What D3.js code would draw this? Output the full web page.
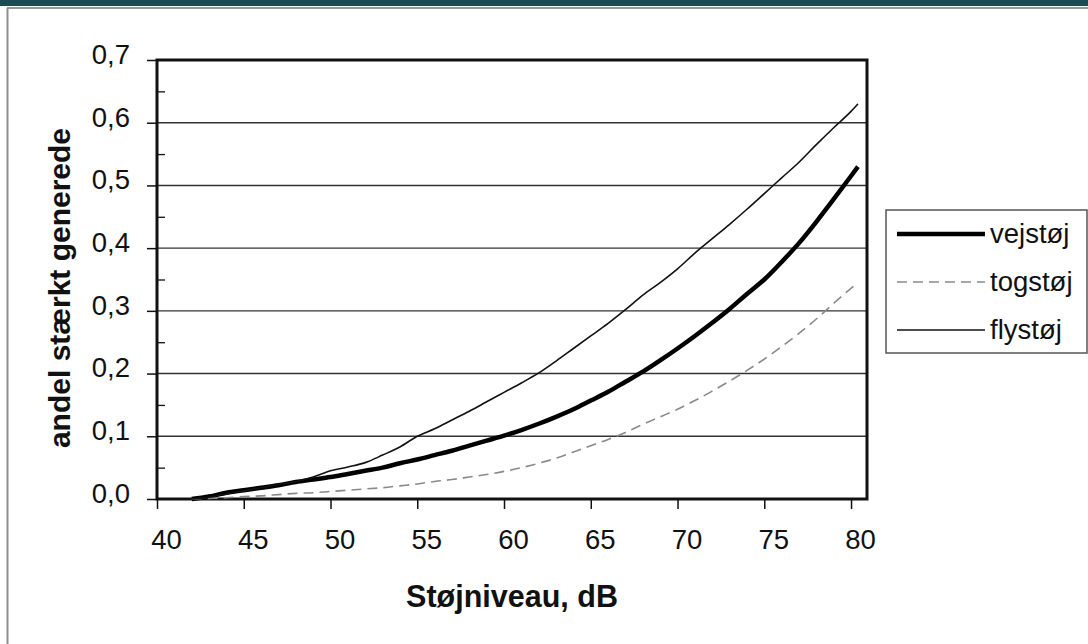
<!DOCTYPE html>
<html>
<head>
<meta charset="utf-8">
<script src="https://cdn.jsdelivr.net/npm/d3@7"></script>
<style>
html,body{margin:0;padding:0;background:#fff;}
svg{display:block;}
text{font-family:"Liberation Sans", Arial, sans-serif;fill:#111;}
</style>
</head>
<body>
<svg id="chart" width="1088" height="644"></svg>
<script>
// ---- data ----
const noiseLevels = [42,43,44,45,46,47,48,49,50,51,52,53,54,55,56,57,58,59,60,61,62,63,64,65,66,67,68,69,70,71,72,73,74,75,76,77,78,79,80,80.4];
const vejstoej = [0,0.004,0.010,0.014,0.018,0.022,0.027,0.031,0.035,0.040,0.045,0.050,0.057,0.063,0.070,0.077,0.085,0.093,0.101,0.110,0.120,0.131,0.143,0.157,0.171,0.187,0.203,0.221,0.240,0.260,0.281,0.303,0.327,0.350,0.378,0.408,0.442,0.478,0.515,0.530];
const togstoej = [0,0.001,0.002,0.004,0.005,0.007,0.009,0.010,0.012,0.014,0.016,0.018,0.021,0.024,0.028,0.031,0.035,0.039,0.044,0.050,0.057,0.065,0.075,0.085,0.095,0.106,0.119,0.131,0.143,0.157,0.172,0.188,0.205,0.223,0.243,0.264,0.287,0.312,0.336,0.345];
const flystoej = [0,0.003,0.008,0.013,0.018,0.023,0.028,0.035,0.045,0.051,0.058,0.070,0.083,0.100,0.112,0.126,0.140,0.155,0.170,0.185,0.201,0.220,0.240,0.260,0.280,0.302,0.325,0.345,0.367,0.392,0.415,0.438,0.462,0.487,0.512,0.537,0.565,0.592,0.618,0.630];
const seriesNames = ["vejstøj","togstøj","flystøj"];
const xTicks = [40,45,50,55,60,65,70,75,80];
const yTicks = [0,0.1,0.2,0.3,0.4,0.5,0.6,0.7];
const yMinorTicks = [0.05,0.15,0.25,0.35,0.45,0.55,0.65];
const xTitle = "Støjniveau, dB";
const yTitle = "andel stærkt generede";

// ---- layout ----
const svg = d3.select("#chart");
const L = 157, R = 867, T = 60, B = 499;
const x = d3.scaleLinear().domain([40, 80.92]).range([L, R]);
const y = d3.scaleLinear().domain([0, 0.7]).range([B, T]);

// outer frame
svg.append("rect").attr("x",0).attr("y",0).attr("width",1088).attr("height",6).attr("fill","#1c4b54");
svg.append("line").attr("x1",7).attr("x2",1088).attr("y1",8).attr("y2",8).attr("stroke","#9a9a9a").attr("stroke-width",2);
svg.append("line").attr("x1",7.5).attr("x2",7.5).attr("y1",8).attr("y2",644).attr("stroke","#8f8f8f").attr("stroke-width",2);

// gridlines
svg.append("g").selectAll("line").data(yTicks.filter(d=>d>0 && d<0.7)).join("line")
  .attr("x1",L).attr("x2",R).attr("y1",d=>y(d)).attr("y2",d=>y(d))
  .attr("stroke","#333").attr("stroke-width",1.4);

// y axis
const yAxis = svg.append("g").attr("transform",`translate(${L},0)`)
  .call(d3.axisLeft(y).tickValues(yTicks).tickSize(10).tickPadding(17).tickFormat(d=>d3.format(".1f")(d).replace(".",",")));
yAxis.select(".domain").remove();
yAxis.selectAll(".tick line").attr("stroke","#111").attr("stroke-width",1.5);
yAxis.selectAll(".tick text").attr("font-size",27.5).attr("dy","0.12em").style("font-family","'Liberation Sans', Arial, sans-serif").attr("fill","#111");

// y minor ticks (inside)
svg.append("g").attr("transform",`translate(${L},0)`)
  .call(d3.axisRight(y).tickValues(yMinorTicks).tickSize(8).tickFormat(""))
  .call(g=>{g.select(".domain").remove(); g.selectAll("line").attr("stroke","#111").attr("stroke-width",1.3);});

// x axis
const xAxis = svg.append("g").attr("transform",`translate(0,${B})`)
  .call(d3.axisBottom(x).tickValues(xTicks).tickSize(10).tickPadding(20).tickFormat(d3.format("d")));
xAxis.select(".domain").remove();
xAxis.selectAll(".tick line").attr("stroke","#111").attr("stroke-width",1.5);
xAxis.selectAll(".tick text").attr("font-size",27.5).attr("dx",9).style("font-family","'Liberation Sans', Arial, sans-serif").attr("fill","#111");

// plot border
svg.append("rect").attr("x",L).attr("y",T).attr("width",R-L).attr("height",B-T)
  .attr("fill","none").attr("stroke","#111").attr("stroke-width",3);

// lines
const pts = vals => noiseLevels.map((n,i)=>[n, vals[i]]);
const line = d3.line().x(d=>x(d[0])).y(d=>y(d[1])).curve(d3.curveMonotoneX);
const styles = [
  {vals: vejstoej, stroke:"#000", width:4.5, dash:null},
  {vals: togstoej, stroke:"#8a8a8a", width:1.6, dash:"10,6"},
  {vals: flystoej, stroke:"#111", width:1.6, dash:null}
];
svg.append("g").selectAll("path").data(styles).join("path")
  .attr("d",s=>line(pts(s.vals)))
  .attr("fill","none").attr("stroke",s=>s.stroke).attr("stroke-width",s=>s.width)
  .attr("stroke-dasharray",s=>s.dash).attr("stroke-linejoin","round");

// axis titles
svg.append("text").attr("x",512).attr("y",607).attr("text-anchor","middle")
  .attr("font-size",30.5).attr("font-weight","bold").text(xTitle);
svg.append("text").attr("transform","translate(70,288) rotate(-90)").attr("text-anchor","middle")
  .attr("font-size",30).attr("font-weight","bold").text(yTitle);

// legend
const lg = svg.append("g");
lg.append("rect").attr("x",886).attr("y",210).attr("width",201).attr("height",143)
  .attr("fill","#fff").attr("stroke","#555").attr("stroke-width",1.5);
const legY = [234, 282, 330];
styles.forEach((s,i)=>{
  lg.append("line").attr("x1",897).attr("x2",985).attr("y1",legY[i]).attr("y2",legY[i])
    .attr("stroke",s.stroke).attr("stroke-width",s.width).attr("stroke-dasharray",s.dash);
  lg.append("text").attr("x",990).attr("y",legY[i]+9).attr("font-size",27.5).text(seriesNames[i]);
});
</script>
</body>
</html>
